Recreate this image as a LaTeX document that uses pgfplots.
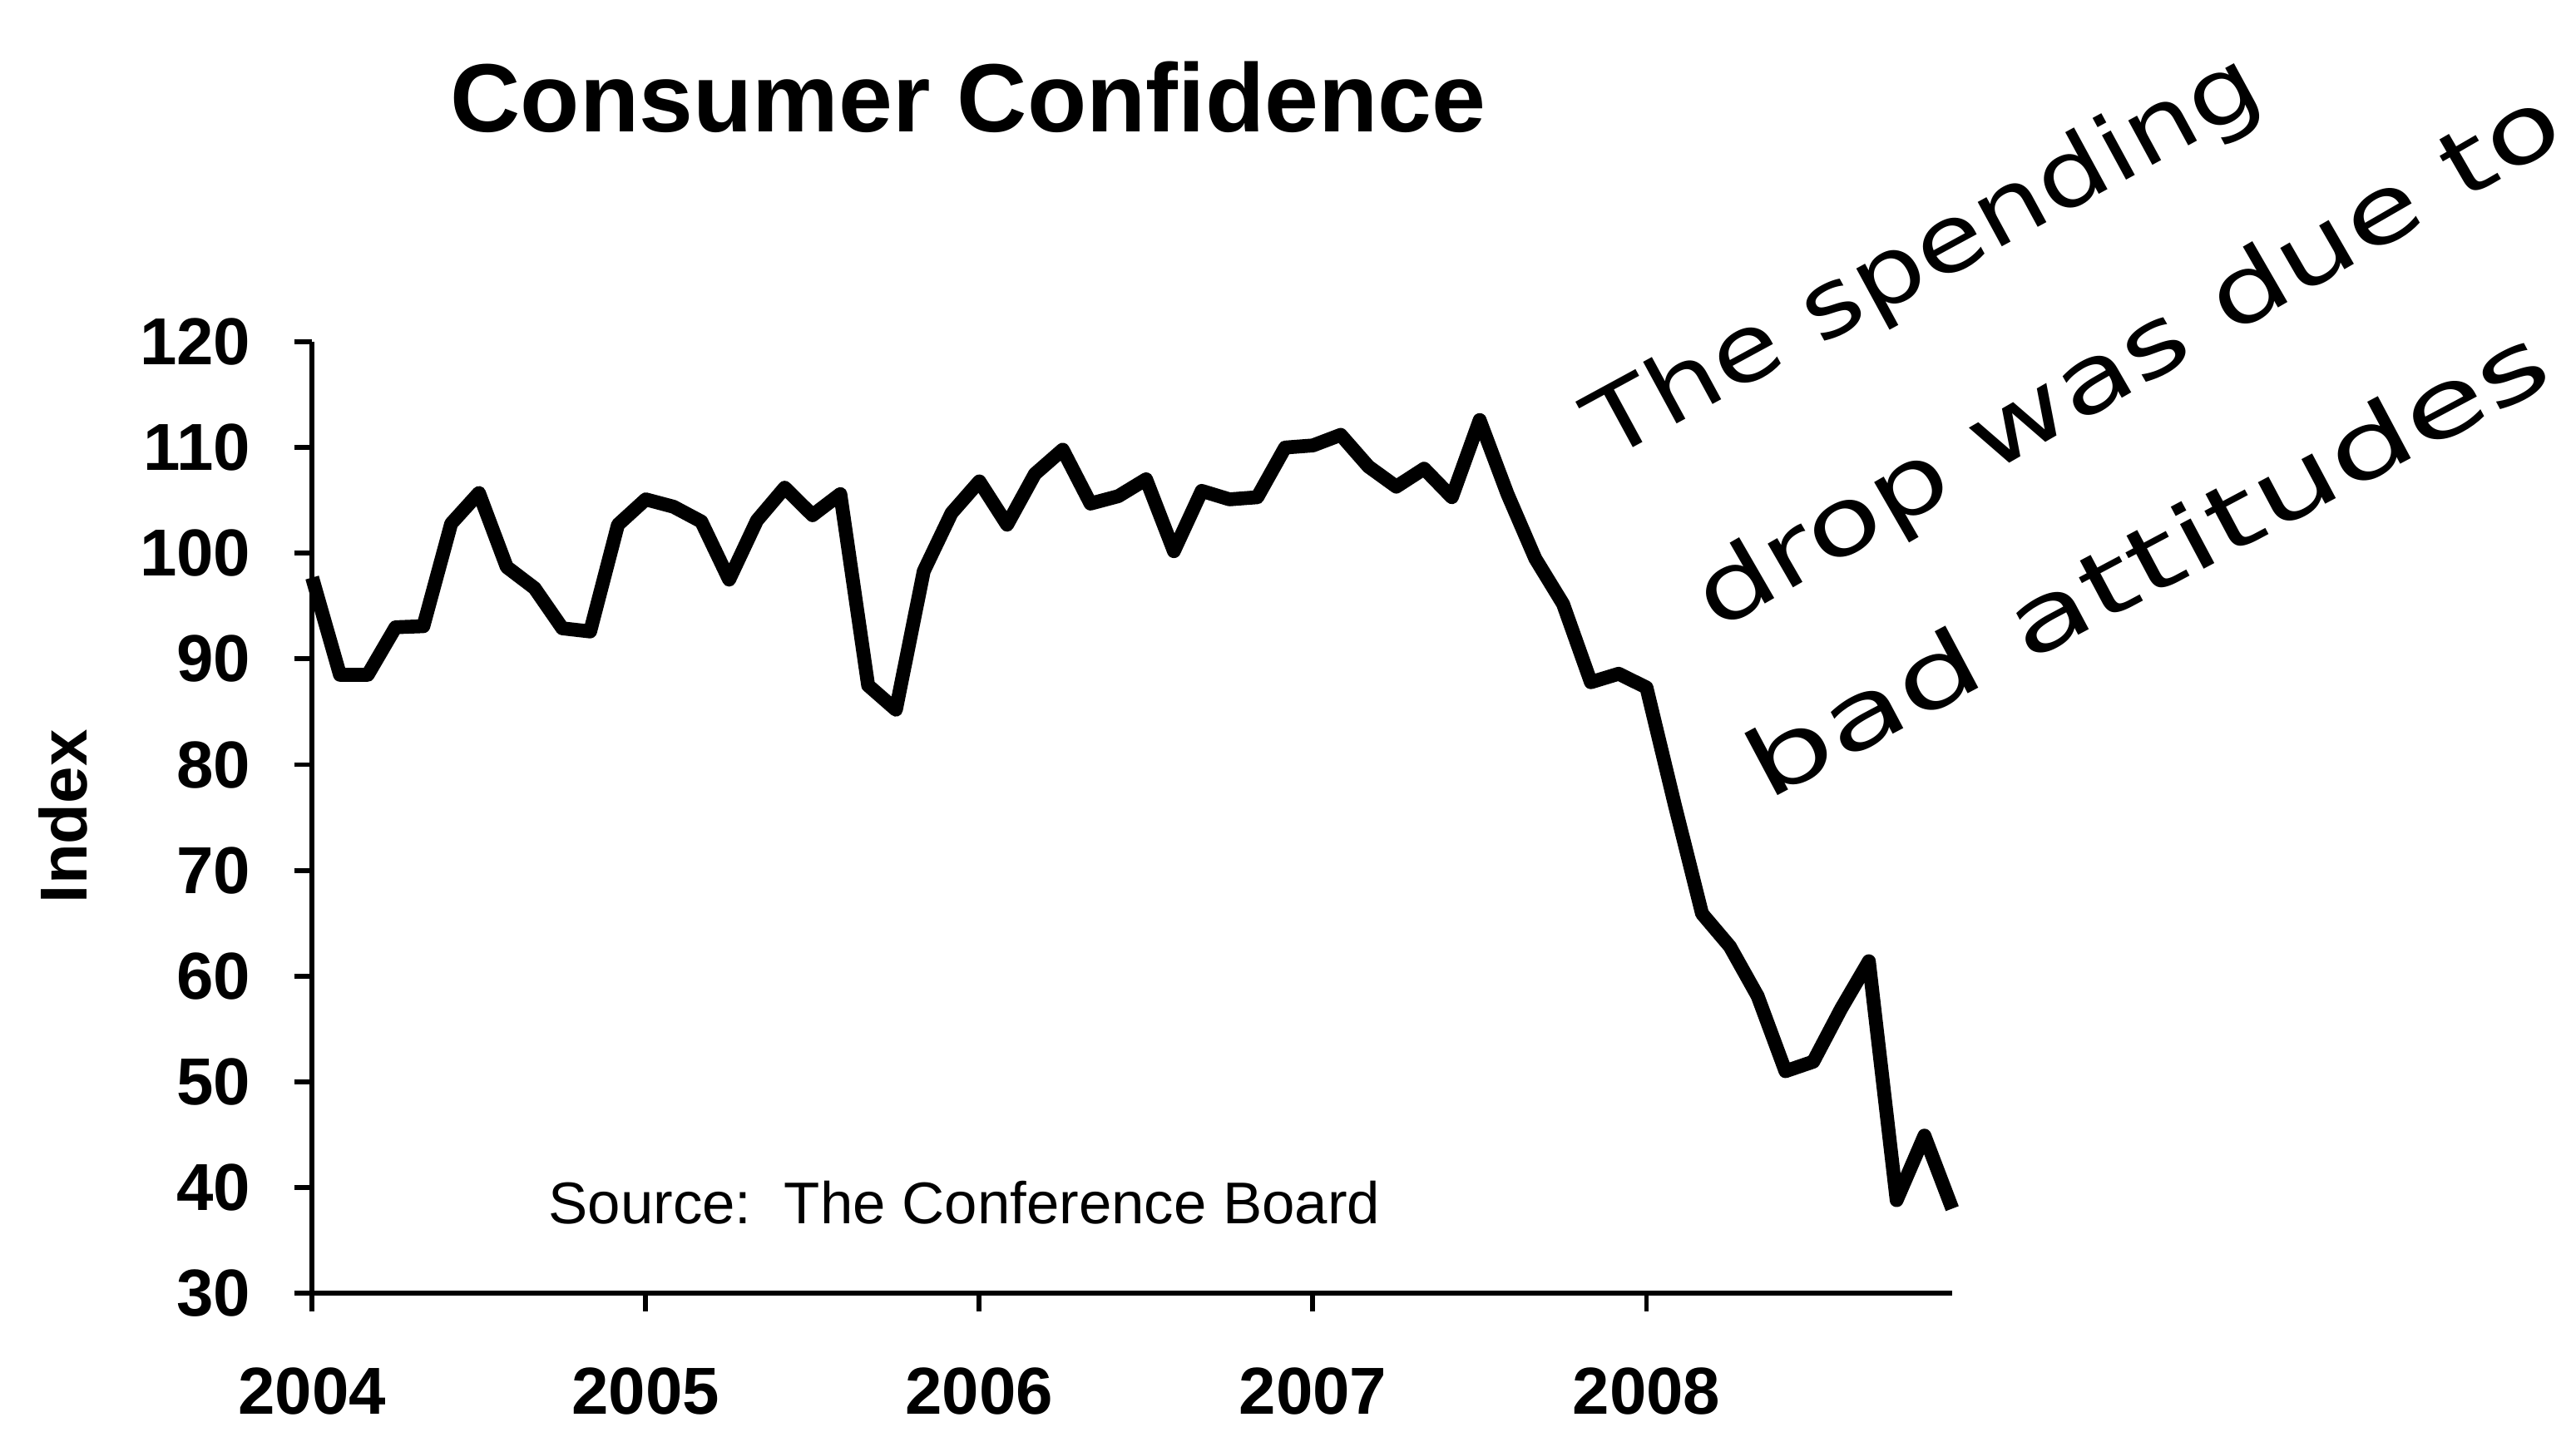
\documentclass[border=0pt]{standalone}
\usepackage{fontspec}
\setmainfont{Liberation Sans}
\newfontfamily\handfont{DejaVu Sans}
\usepackage{graphicx}
\usepackage{pgfplots}
\usepackage{pgfplotstable}
\pgfplotsset{compat=1.18}

\pgfplotstableread{
m v
0 97.7
1 88.5
2 88.5
3 93.0
4 93.1
5 102.8
6 105.7
7 98.7
8 96.7
9 92.9
10 92.6
11 102.7
12 105.1
13 104.4
14 103.0
15 97.5
16 103.1
17 106.2
18 103.6
19 105.6
20 87.5
21 85.2
22 98.3
23 103.8
24 106.8
25 102.7
26 107.5
27 109.8
28 104.7
29 105.4
30 107.0
31 100.2
32 105.9
33 105.1
34 105.3
35 110.0
36 110.2
37 111.2
38 108.2
39 106.3
40 108.0
41 105.3
42 112.6
43 105.6
44 99.5
45 95.2
46 87.8
47 88.6
48 87.3
49 76.4
50 65.9
51 62.8
52 58.1
53 51.0
54 51.9
55 56.9
56 61.4
57 38.8
58 44.9
59 38.0
}\datatable

\begin{document}
\begin{tikzpicture}
\begin{axis}[
  scale only axis,
  width=9.98cm, height=5.79cm,
  xmin=0, xmax=59, ymin=30, ymax=120,
  axis x line=bottom, axis y line=left,
  axis line style={-, line width=0.85pt, black},
  tick align=outside,
  major tick length=1.1mm,
  tick style={line width=0.85pt, black},
  xtick={0,12,24,36,48},
  xticklabels={2004,2005,2006,2007,2008},
  ytick={30,40,...,120},
  minor tick num=0,
  /pgf/number format/assume math mode=true,
  ticklabel style={font=\fontsize{11.5}{13}\selectfont\bfseries},
  yticklabel style={xshift=-1.4mm},
  xticklabel style={yshift=-2.2mm},
  clip=false,
]
\addplot[black, line width=2.4pt, line join=round, mark=none] table[x=m,y=v]{\datatable};

\node[anchor=base, inner sep=0, font=\fontsize{16.8}{19}\selectfont\bfseries] at (axis cs:23.6,139.9) {Consumer Confidence};
\node[rotate=90, inner sep=0, font=\fontsize{11.5}{13}\selectfont\bfseries] at (axis cs:-8.96,75.1) {Index};
\node[anchor=west, inner sep=0, font=\fontsize{10.2}{12}\selectfont] at (axis cs:8.46,38.55) {Source:\ \ The Conference Board};

\node[rotate=28.5, anchor=base west, inner sep=0, font=\handfont\fontsize{16}{20}\selectfont] at (axis cs:46.6,108.7) {\scalebox{1.2}[1]{The spending}};
\node[rotate=30, anchor=base west, inner sep=0, font=\handfont\fontsize{16}{20}\selectfont] at (axis cs:50.5,92.5) {\scalebox{1.32}[1]{drop was due to}};
\node[rotate=28, anchor=base west, inner sep=0, font=\handfont\fontsize{16}{20}\selectfont] at (axis cs:52.3,76.5) {\scalebox{1.45}[1]{bad attitudes}};

\coordinate (bbSW) at (axis cs:-11.23,16.94);
\coordinate (bbNE) at (axis cs:81.44,152.34);
\end{axis}
\pgfresetboundingbox
\path (bbSW) rectangle (bbNE);
\end{tikzpicture}
\end{document}
